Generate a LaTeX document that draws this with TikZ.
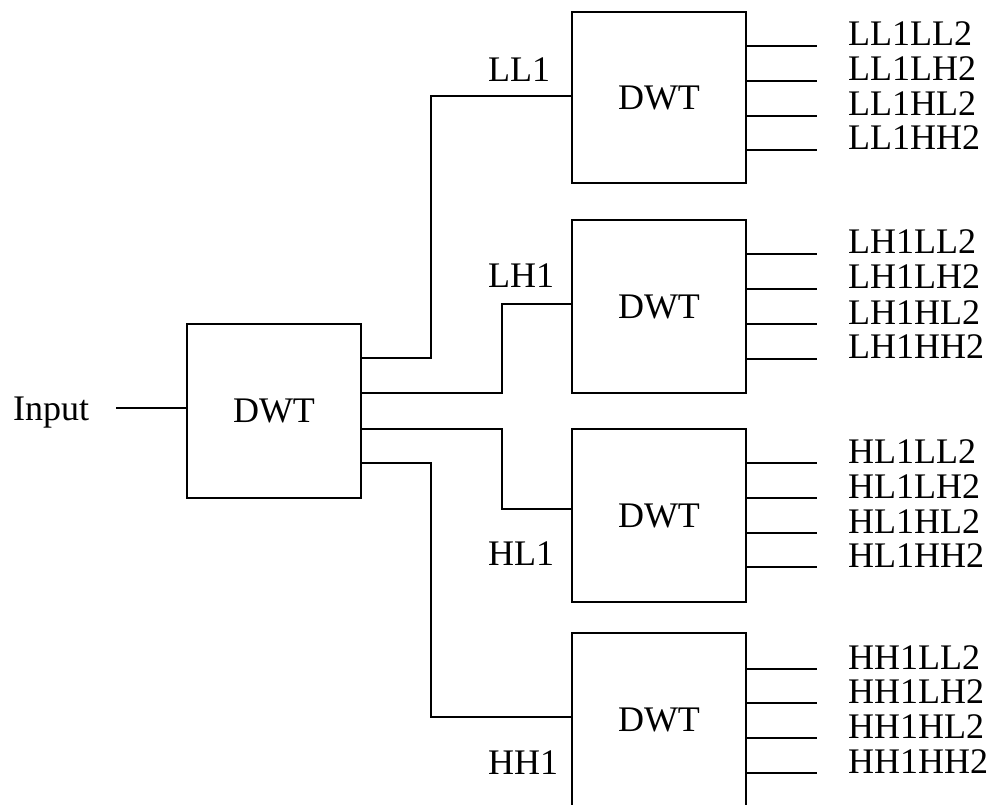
\documentclass[tikz,border=0pt]{standalone}
\usepackage{fontspec}
\setmainfont{Liberation Serif}
\begin{document}
\begin{tikzpicture}[x=1pt,y=-1pt,
  dwt/.style={draw,line width=2.5pt,minimum width=174pt,inner sep=0pt,font=\fontsize{36}{40}\selectfont},
  wire/.style={line width=2pt},
  lbl/.style={anchor=base west,inner sep=0pt,font=\fontsize{36}{40}\selectfont}]
\useasboundingbox (0,0) rectangle (994,805);
\node[dwt,minimum height=174pt] (m) at (274,411) {DWT};
\node[dwt,minimum height=171pt] (b1) at (659,97.5) {DWT};
\node[dwt,minimum height=173pt] (b2) at (659,306.5) {DWT};
\node[dwt,minimum height=173pt] (b3) at (659,515.5) {DWT};
\node[dwt,minimum height=174pt] (b4) at (659,720) {DWT};
% input
\node[lbl] (in) at (13,420) {Input};
\coordinate (inS) at (116,408);
\draw[wire] (inS) -- (inS -| m.west);
% first level connectors
\coordinate (j1) at (431,96);
\coordinate (j2) at (502,304);
\coordinate (j3) at (502,509);
\coordinate (j4) at (431,717);
\draw[wire] (m.east |- 0,358) -| (j1) -- (j1 -| b1.west);
\draw[wire] (m.east |- 0,393) -| (j2) -- (j2 -| b2.west);
\draw[wire] (m.east |- 0,429) -| (j3) -- (j3 -| b3.west);
\draw[wire] (m.east |- 0,463) -| (j4) -- (j4 -| b4.west);
\node[lbl] (LL1) at (488,82) {LL1};
\node[lbl] (LH1) at (488,288) {LH1};
\node[lbl] (HL1) at (488,565) {HL1};
\node[lbl] (HH1) at (488,774) {HH1};
% outputs
\foreach \b/\p/\ya/\yb/\yc/\yd in {b1/LL1/46/81/116/150, b2/LH1/254/289/324/359, b3/HL1/463/498/533/567, b4/HH1/669/703/738/773}{
  \foreach \y/\s in {\ya/LL2,\yb/LH2,\yc/HL2,\yd/HH2}{
    \node[lbl] (o\p\s) at (848,\y) {\p\s};
    \coordinate (e\p\s) at (817,\y);
    \draw[wire] (\b.east |- e\p\s) -- (e\p\s);
  }
}
\end{tikzpicture}
\end{document}
